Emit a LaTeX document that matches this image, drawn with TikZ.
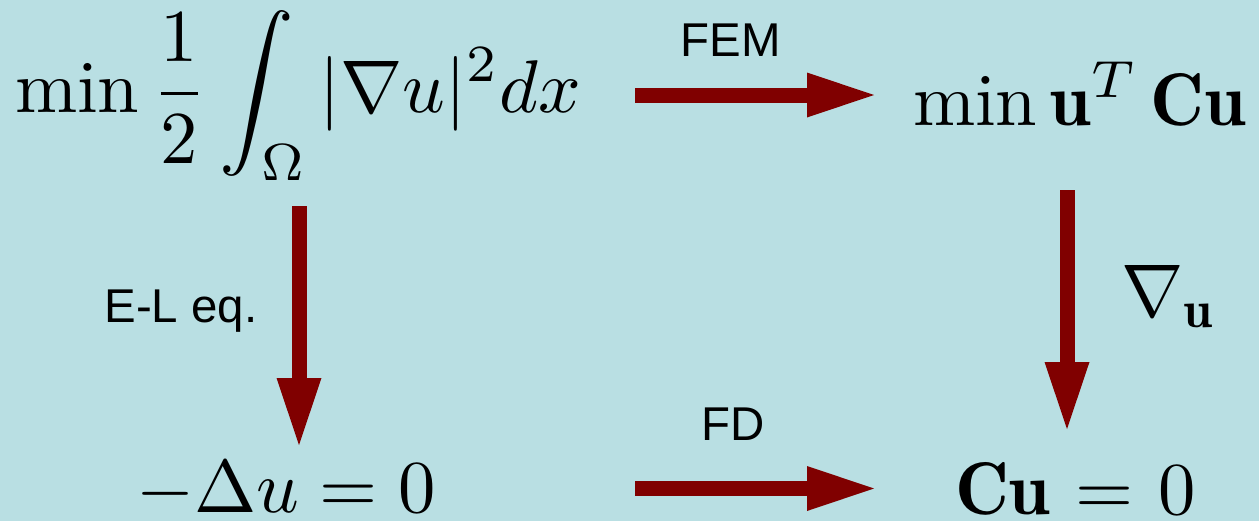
\documentclass[tikz,border=0pt]{standalone}
\usepackage{fontspec}
\newfontfamily\labfont{Liberation Sans}
\usetikzlibrary{arrows.meta}
\definecolor{bgcol}{RGB}{185,223,227}
\definecolor{arrcol}{RGB}{128,0,0}
\begin{document}
\begin{tikzpicture}[x=0.02cm,y=-0.02cm,
  mathnode/.style={inner sep=0pt, outer sep=0pt, scale=4.25},
  labnode/.style={inner sep=0pt, outer sep=0pt, font=\labfont\fontsize{27}{32}\selectfont},
  bigarrow/.style={arrcol, line width=0.3cm, line cap=butt,
    -{Triangle[length=1.34cm, width=0.9cm, line width=0pt]}}]
\fill[bgcol] (0,0) rectangle (1259,521);
\node[mathnode, anchor=base west] (A) at (15,112) {$\displaystyle \min\frac{1}{2}\int_\Omega |\nabla u|^2dx$};
\node[mathnode, anchor=base west] (B) at (913,125) {$\min\mathbf{u}^T\,\mathbf{C}\mathbf{u}$};
\node[mathnode, anchor=base west] (C) at (136,512) {$-\Delta u = 0$};
\node[mathnode, anchor=base west] (D) at (955,514) {$\mathbf{C}\mathbf{u}\mskip1mu=\mskip1mu0$};
\node[mathnode, anchor=base west] (G) at (1121,316) {$\nabla_{\mathbf{u}}$};
\node[labnode, anchor=base] (fem) at (731,56) {FEM};
\node[labnode, anchor=base] (fd) at (733,440) {FD};
\node[labnode, anchor=base] (el) at (181,322) {E-L eq.};
\coordinate (a1) at (635,95);
\coordinate (a2) at (874,95);
\coordinate (b1) at (635,488.5);
\coordinate (b2) at (874,488.5);
\coordinate (c1) at (299,206);
\coordinate (c2) at (299,445);
\coordinate (d1) at (1067,190);
\coordinate (d2) at (1067,429);
\draw[bigarrow] (a1) -- (a2);
\draw[bigarrow] (b1) -- (b2);
\draw[bigarrow] (c1) -- (c2);
\draw[bigarrow] (d1) -- (d2);
\end{tikzpicture}
\end{document}
